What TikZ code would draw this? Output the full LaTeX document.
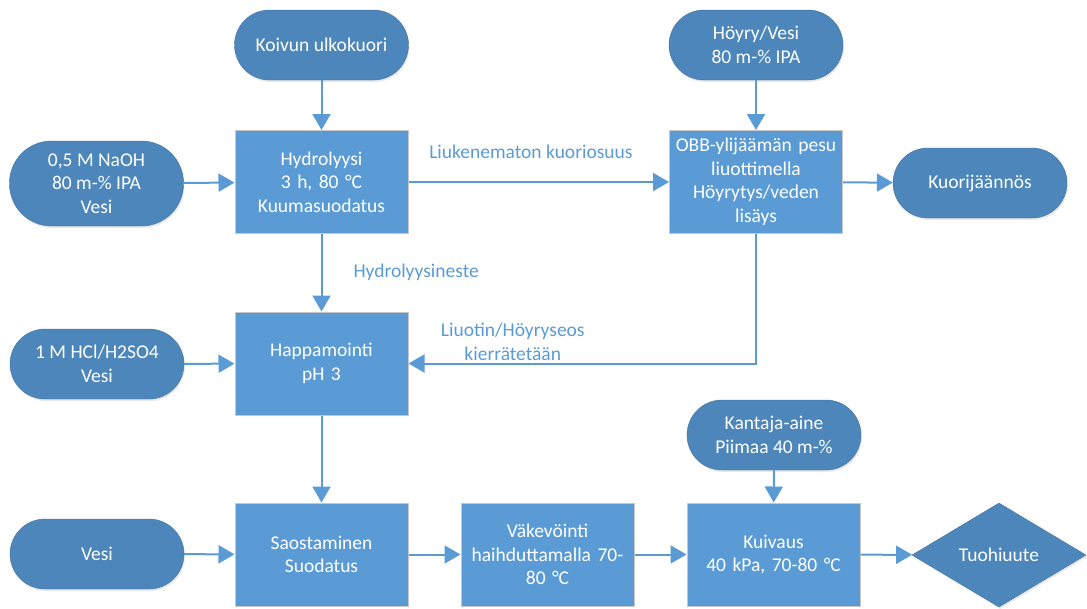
\documentclass[tikz,border=0pt]{standalone}
\usepackage{fontspec}
\setmainfont{Carlito}
\usetikzlibrary{arrows.meta,shapes.geometric,shadows}
\definecolor{boxblue}{HTML}{5B9BD5}
\definecolor{pillblue}{HTML}{4D86BA}
\definecolor{lineblue}{HTML}{5B9BD5}
\tikzset{
  pill/.style={rectangle, rounded corners=35pt, fill=pillblue, draw=pillblue!85!black, line width=0.4pt,
    text=white, align=center, inner sep=0pt, minimum width=174pt, minimum height=70pt,
    drop shadow={opacity=0.18, shadow xshift=1pt, shadow yshift=-2pt}},
  procbox/.style={rectangle, fill=boxblue, draw=black!22, line width=1pt, text=white, align=center,
    inner sep=2pt, minimum width=173pt, minimum height=103pt, text width=168pt},
  endnode/.style={diamond, aspect=1.67, fill=pillblue, draw=pillblue!85!black, line width=0.4pt, text=white,
    inner sep=0pt, minimum width=174pt, minimum height=104pt,
    drop shadow={opacity=0.18, shadow xshift=1pt, shadow yshift=-2pt}},
  flow/.style={draw=lineblue, line width=2pt, -{Triangle[width=18pt,length=16pt]}},
  lbl/.style={text=lineblue, align=center, inner sep=0pt},
}
\begin{document}
\begin{tikzpicture}[x=1pt, y=-1pt, font=\fontsize{19.5}{23.5}\selectfont]
\useasboundingbox (0,0) rectangle (1087,608);
% inputs
\node[pill] (koivu) at (321.5,45) {Koivun ulkokuori};
\node[pill, minimum height=85pt, rounded corners=42pt] (naoh) at (96.5,183.5) {0,5 M NaOH\\80 m-\% IPA\\Vesi};
\node[pill] (hoyry) at (756,45) {Höyry/Vesi\\80 m-\% IPA};
\node[pill] (kuori) at (980,183) {Kuorijäännös};
\node[pill] (hcl) at (97,364) {1 M HCl/H2SO4\\Vesi};
\node[pill] (vesi) at (97,554) {Vesi};
\node[pill] (kantaja) at (774,435) {Kantaja-aine\\Piimaa 40 m-\%};
% process boxes
\node[procbox] (hydro) at (321.5,182) {Hydrolyysi\\3 h, 80 °C\\Kuumasuodatus};
\node[procbox] (obb) at (756,182) {OBB-ylijäämän pesu\\liuottimella\\Höyrytys/veden\\lisäys};
\node[procbox] (happ) at (321.5,363.5) {Happamointi\\pH 3};
\node[procbox] (saost) at (321.5,554.5) {Saostaminen\\Suodatus};
\node[procbox] (vak) at (547.5,554.5) {Väkevöinti\\haihduttamalla 70-\\80 °C};
\node[procbox] (kuiv) at (773.5,554.5) {Kuivaus\\40 kPa, 70-80 °C};
\node[endnode] (tuohi) at (999,555) {Tuohiuute};
% connectors
\draw[flow] (koivu) -- (hydro);
\draw[flow] (naoh) -- (hydro);
\draw[flow] (hydro) -- node[lbl, pos=0.47, above=22pt] {Liukenematon kuoriosuus} (obb);
\draw[flow] (hydro) -- node[lbl, anchor=west, xshift=31pt] {Hydrolyysineste} (happ);
\draw[flow] (hoyry) -- (obb);
\draw[flow] (obb) -- (kuori);
\draw[flow] (obb.south) |- node[lbl, pos=0.85, above=2pt] {Liuotin/Höyryseos\\kierrätetään} (happ.east);
\draw[flow] (hcl) -- (happ);
\draw[flow] (happ) -- (saost);
\draw[flow] (vesi) -- (saost);
\draw[flow] (saost) -- (vak);
\draw[flow] (vak) -- (kuiv);
\draw[flow] (kantaja) -- (kuiv);
\draw[flow] (kuiv) -- (tuohi);
\end{tikzpicture}
\end{document}
